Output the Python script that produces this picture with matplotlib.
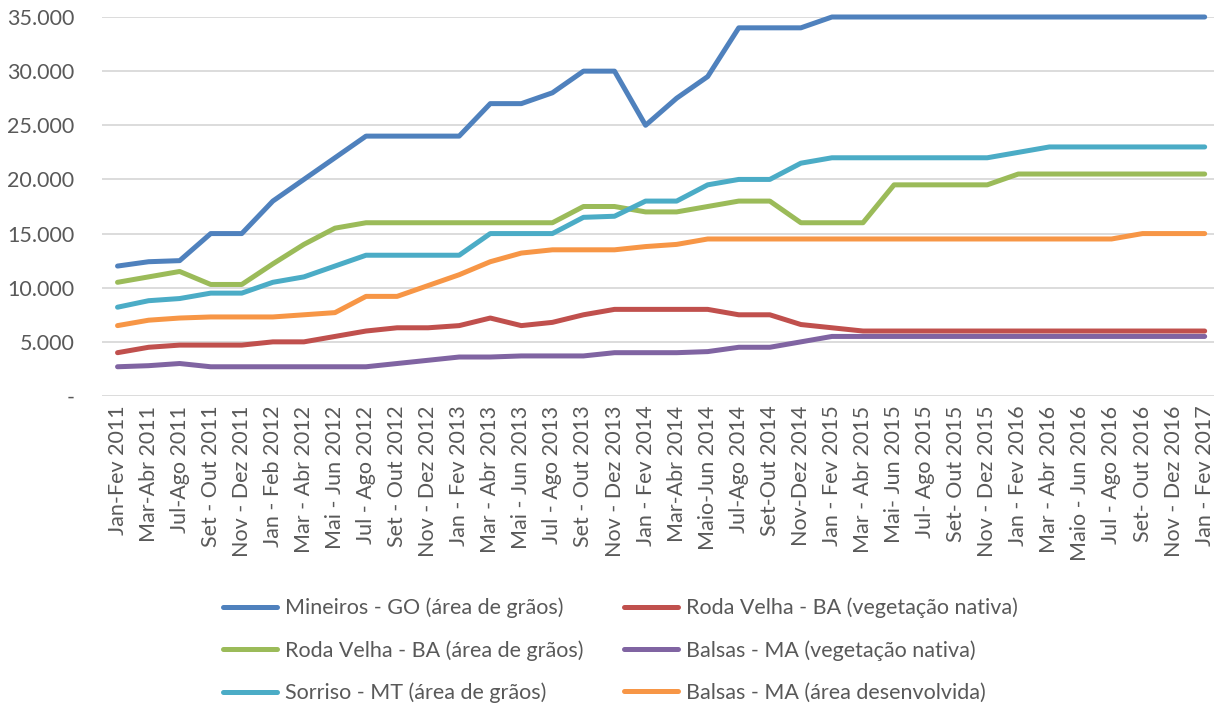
import matplotlib
matplotlib.use("Agg")
import matplotlib.pyplot as plt
from matplotlib.ticker import FuncFormatter

plt.rcParams['font.family'] = ['Lato', 'DejaVu Sans']

periods = [
    "Jan-Fev 2011", "Mar-Abr 2011", "Jul-Ago 2011", "Set - Out 2011", "Nov - Dez 2011",
    "Jan - Feb 2012", "Mar - Abr 2012", "Mai - Jun 2012", "Jul - Ago 2012", "Set - Out 2012",
    "Nov - Dez 2012", "Jan - Fev 2013", "Mar - Abr 2013", "Mai - Jun 2013", "Jul - Ago 2013",
    "Set - Out 2013", "Nov - Dez 2013", "Jan - Fev 2014", "Mar-Abr 2014", "Maio-Jun 2014",
    "Jul-Ago 2014", "Set-Out 2014", "Nov-Dez 2014", "Jan - Fev 2015", "Mar - Abr 2015",
    "Mai- Jun 2015", "Jul- Ago 2015", "Set- Out 2015", "Nov - Dez 2015", "Jan - Fev 2016",
    "Mar - Abr 2016", "Maio - Jun 2016", "Jul - Ago 2016", "Set- Out 2016", "Nov - Dez 2016",
    "Jan - Fev 2017",
]

mineiros_graos = [12000, 12400, 12500, 15000, 15000, 18000, 20000, 22000, 24000, 24000,
                  24000, 24000, 27000, 27000, 28000, 30000, 30000, 25000, 27500, 29500,
                  34000, 34000, 34000, 35000, 35000, 35000, 35000, 35000, 35000, 35000,
                  35000, 35000, 35000, 35000, 35000, 35000]
roda_velha_nativa = [4000, 4500, 4700, 4700, 4700, 5000, 5000, 5500, 6000, 6300,
                     6300, 6500, 7200, 6500, 6800, 7500, 8000, 8000, 8000, 8000,
                     7500, 7500, 6600, 6300, 6000, 6000, 6000, 6000, 6000, 6000,
                     6000, 6000, 6000, 6000, 6000, 6000]
roda_velha_graos = [10500, 11000, 11500, 10300, 10300, 12200, 14000, 15500, 16000, 16000,
                    16000, 16000, 16000, 16000, 16000, 17500, 17500, 17000, 17000, 17500,
                    18000, 18000, 16000, 16000, 16000, 19500, 19500, 19500, 19500, 20500,
                    20500, 20500, 20500, 20500, 20500, 20500]
balsas_nativa = [2700, 2800, 3000, 2700, 2700, 2700, 2700, 2700, 2700, 3000,
                 3300, 3600, 3600, 3700, 3700, 3700, 4000, 4000, 4000, 4100,
                 4500, 4500, 5000, 5500, 5500, 5500, 5500, 5500, 5500, 5500,
                 5500, 5500, 5500, 5500, 5500, 5500]
sorriso_graos = [8200, 8800, 9000, 9500, 9500, 10500, 11000, 12000, 13000, 13000,
                 13000, 13000, 15000, 15000, 15000, 16500, 16600, 18000, 18000, 19500,
                 20000, 20000, 21500, 22000, 22000, 22000, 22000, 22000, 22000, 22500,
                 23000, 23000, 23000, 23000, 23000, 23000]
balsas_desenv = [6500, 7000, 7200, 7300, 7300, 7300, 7500, 7700, 9200, 9200,
                 10200, 11200, 12400, 13200, 13500, 13500, 13500, 13800, 14000, 14500,
                 14500, 14500, 14500, 14500, 14500, 14500, 14500, 14500, 14500, 14500,
                 14500, 14500, 14500, 15000, 15000, 15000]

series = [
    ("Mineiros - GO (área de grãos)", mineiros_graos, "#4F81BD"),
    ("Roda Velha - BA (vegetação nativa)", roda_velha_nativa, "#C0504D"),
    ("Roda Velha - BA (área de grãos)", roda_velha_graos, "#9BBB59"),
    ("Balsas - MA (vegetação nativa)", balsas_nativa, "#8064A2"),
    ("Sorriso - MT (área de grãos)", sorriso_graos, "#4BACC6"),
    ("Balsas - MA (área desenvolvida)", balsas_desenv, "#F79646"),
]

fig = plt.figure(figsize=(12.14, 7.08), dpi=100)
ax = fig.add_axes([102 / 1214, 312 / 708, 1112 / 1214, 379 / 708])

x = list(range(len(periods)))
lines = {}
for name, vals, color in series:
    ln, = ax.plot(x, vals, color=color, lw=3.6, solid_capstyle='round',
                  solid_joinstyle='round', clip_on=False, label=name)
    lines[name] = ln

ax.set_xlim(-0.5, 35.3)
ax.set_ylim(0, 35000)
ax.set_yticks(range(0, 35001, 5000))
ax.yaxis.set_major_formatter(FuncFormatter(
    lambda v, p: "-" if v == 0 else f"{int(v):,}".replace(",", ".")))
ax.set_xticks(x)
ax.set_xticklabels(periods, rotation=90)
ax.tick_params(axis='both', length=0, labelsize=15.5, colors='#595959')
ax.tick_params(axis='y', pad=20)
ax.tick_params(axis='x', pad=7)
ax.grid(axis='y', color='#D9D9D9', lw=1.3)
ax.set_axisbelow(True)
for s in ax.spines.values():
    s.set_visible(False)

# legend, Excel puts entries row by row
order = [0, 2, 4, 1, 3, 5]
handles = [lines[series[i][0]] for i in order]
labels = [series[i][0] for i in order]
fig.legend(handles, labels, ncol=2, loc='upper left', bbox_to_anchor=(212 / 1214, 1 - 587 / 708),
           frameon=False, fontsize=15.5, labelcolor='#595959', handlelength=2.5,
           handletextpad=0.37, columnspacing=1.9, labelspacing=1.02, borderpad=0)

fig.savefig("out.png", dpi=100)
